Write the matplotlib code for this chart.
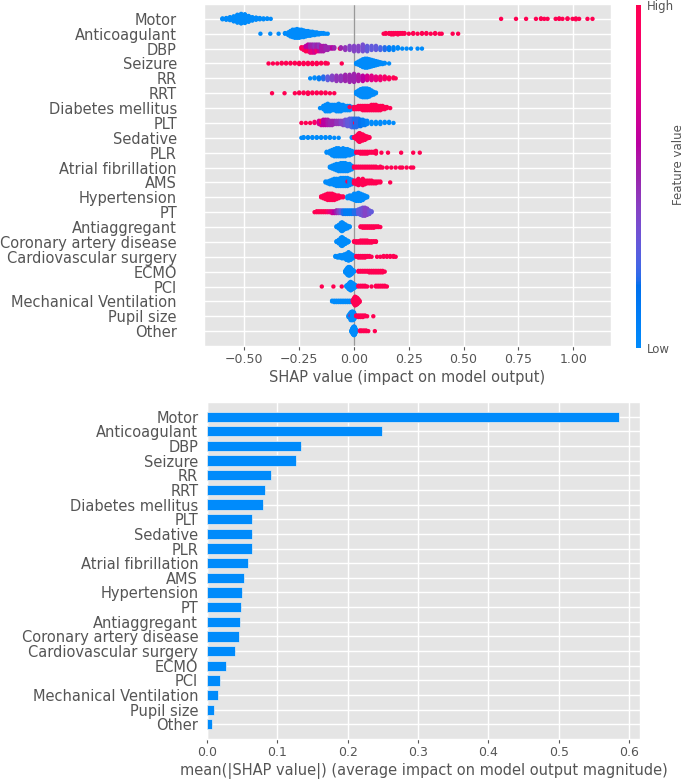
import numpy as np
import matplotlib
matplotlib.use("Agg")
import matplotlib.pyplot as plt
from matplotlib.colors import LinearSegmentedColormap

# ---------------- data ----------------
features = ["Motor", "Anticoagulant", "DBP", "Seizure", "RR", "RRT",
            "Diabetes mellitus", "PLT", "Sedative", "PLR", "Atrial fibrillation",
            "AMS", "Hypertension", "PT", "Antiaggregant", "Coronary artery disease",
            "Cardiovascular surgery", "ECMO", "PCI", "Mechanical Ventilation",
            "Pupil size", "Other"]

mean_abs_shap = [0.586, 0.249, 0.133, 0.126, 0.091, 0.0825, 0.079, 0.0645, 0.0645,
                 0.0645, 0.0577, 0.0527, 0.050, 0.049, 0.047, 0.046, 0.040, 0.0267,
                 0.019, 0.0155, 0.010, 0.0068]

top_xticks = [-0.50, -0.25, 0.00, 0.25, 0.50, 0.75, 1.00]
bottom_xticks = [0.0, 0.1, 0.2, 0.3, 0.4, 0.5, 0.6]

# beeswarm rows: (SHAP value, number of points, feature value 0=low .. 1=high)
motor = [(-0.600, 3, 0), (-0.583, 5, 0), (-0.566, 8, 0), (-0.549, 13, 0), (-0.532, 20, 0),
         (-0.515, 24, 0), (-0.498, 22, 0), (-0.481, 15, 0), (-0.464, 9, 0), (-0.447, 6, 0),
         (-0.430, 4, 0), (-0.413, 3, 0), (-0.396, 2, 0), (-0.380, 1, 0),
         (0.671, 1, 1), (0.739, 1, 1), (0.785, 1, 1), (0.830, 1, 1), (0.853, 2, 1), (0.868, 1, 1),
         (0.883, 1, 1), (0.920, 1, 1), (0.936, 2, 1), (0.951, 1, 1), (0.974, 2, 1), (0.997, 1, 1),
         (1.012, 2, 1), (1.027, 1, 1), (1.065, 1, 1), (1.088, 1, 1)]
anticoagulant = [(-0.427, 1, 0), (-0.382, 1, 0), (-0.344, 1, 0), (-0.315, 2, 0), (-0.30, 5, 0),
                 (-0.29, 9, 0), (-0.28, 12, 0), (-0.27, 13, 0), (-0.26, 14, 0), (-0.25, 13, 0),
                 (-0.24, 12, 0), (-0.23, 11, 0), (-0.22, 9, 0), (-0.21, 8, 0), (-0.20, 7, 0),
                 (-0.19, 6, 0), (-0.18, 5, 0), (-0.17, 4, 0), (-0.16, 3, 0), (-0.15, 2, 0),
                 (-0.14, 2, 0), (-0.13, 1, 0), (-0.12, 1, 0),
                 (0.135, 1, 1), (0.145, 2, 1), (0.16, 2, 1), (0.17, 3, 1), (0.18, 3, 1), (0.19, 2, 1),
                 (0.20, 3, 1), (0.21, 2, 1), (0.22, 2, 1), (0.23, 2, 1), (0.25, 1, 1), (0.27, 2, 1),
                 (0.29, 1, 1), (0.31, 2, 1), (0.33, 2, 1), (0.35, 1, 1), (0.37, 2, 1), (0.39, 1, 1),
                 (0.40, 1, 1), (0.45, 1, 1), (0.475, 1, 1)]
dbp = [(-0.24, 2, 1), (-0.23, 3, 0.9), (-0.22, 3, 1), (-0.22, 2, 0.6), (-0.21, 3, 1), (-0.21, 3, 0.6),
       (-0.20, 4, 0.8), (-0.20, 3, 0.5), (-0.19, 4, 0.8), (-0.19, 3, 0.5), (-0.18, 4, 0.7),
       (-0.18, 3, 0.45), (-0.17, 3, 0.9), (-0.17, 3, 0.5), (-0.16, 3, 0.7), (-0.16, 3, 0.45),
       (-0.15, 5, 0.55), (-0.14, 5, 0.55), (-0.13, 4, 0.5), (-0.12, 3, 0.5), (-0.11, 2, 0.5),
       (-0.10, 2, 0.6), (-0.09, 2, 0.5), (-0.065, 1, 1), (-0.06, 2, 0.5), (-0.04, 3, 0.45),
       (-0.02, 4, 0.4), (0.00, 5, 0.4), (0.02, 5, 0.4), (0.04, 6, 0.35), (0.06, 5, 0.3),
       (0.08, 4, 0.3), (0.10, 4, 0.3), (0.12, 3, 0.25), (0.14, 3, 0.2), (0.16, 3, 0.1),
       (0.18, 3, 0.05), (0.20, 2, 0), (0.22, 1, 0), (0.24, 1, 0), (0.26, 1, 0), (0.29, 1, 0),
       (0.31, 1, 0)]
seizure = [(-0.39, 1, 1), (-0.37, 1, 1), (-0.35, 1, 1), (-0.33, 2, 1), (-0.31, 2, 1), (-0.29, 2, 1),
           (-0.27, 2, 1), (-0.25, 3, 1), (-0.23, 3, 1), (-0.21, 3, 1), (-0.19, 3, 1), (-0.17, 3, 1),
           (-0.15, 2, 1), (-0.13, 2, 1), (-0.12, 1, 1), (-0.056, 1, 1),
           (0.01, 3, 0), (0.02, 6, 0), (0.03, 10, 0), (0.04, 14, 0), (0.05, 16, 0), (0.06, 16, 0),
           (0.07, 14, 0), (0.08, 12, 0), (0.09, 10, 0), (0.10, 8, 0), (0.11, 6, 0), (0.12, 4, 0),
           (0.13, 3, 0), (0.14, 2, 0), (0.16, 1, 0)]
rr = [(-0.20, 1, 0), (-0.18, 2, 0), (-0.16, 3, 0.1), (-0.14, 4, 0.2), (-0.12, 5, 0.3),
      (-0.10, 6, 0.4), (-0.08, 7, 0.45), (-0.06, 7, 0.45), (-0.04, 8, 0.5), (-0.02, 9, 0.5),
      (0.00, 10, 0.5), (0.02, 8, 0.55), (0.04, 7, 0.6), (0.06, 6, 0.7), (0.08, 6, 0.75),
      (0.10, 5, 0.8), (0.12, 5, 0.85), (0.14, 4, 0.9), (0.16, 3, 0.95), (0.18, 2, 1), (0.19, 1, 1)]
rrt = [(-0.374, 1, 1), (-0.317, 1, 1), (-0.27, 1, 1), (-0.25, 2, 1), (-0.23, 2, 1), (-0.21, 3, 1),
       (-0.19, 2, 1), (-0.17, 2, 1), (-0.15, 2, 1), (-0.13, 2, 1), (-0.11, 1, 1), (-0.09, 1, 1),
       (0.01, 4, 0), (0.02, 8, 0), (0.03, 12, 0), (0.04, 14, 0), (0.05, 14, 0), (0.06, 14, 0),
       (0.07, 12, 0), (0.08, 8, 0), (0.09, 5, 0), (0.10, 2, 0)]
diabetes = [(-0.155, 1, 0), (-0.14, 4, 0), (-0.13, 7, 0), (-0.12, 8, 0), (-0.11, 7, 0), (-0.10, 6, 0),
            (-0.09, 6, 0), (-0.08, 7, 0), (-0.07, 8, 0), (-0.06, 7, 0), (-0.05, 6, 0), (-0.04, 5, 0),
            (-0.03, 5, 0), (-0.02, 4, 0), (-0.01, 3, 0),
            (-0.02, 1, 1), (0.00, 3, 1), (0.01, 3, 1), (0.02, 4, 1), (0.03, 4, 1), (0.04, 5, 1),
            (0.05, 5, 1), (0.06, 5, 1), (0.07, 5, 1), (0.08, 6, 1), (0.09, 6, 1), (0.10, 6, 1),
            (0.11, 5, 1), (0.12, 5, 1), (0.13, 4, 1), (0.14, 3, 1), (0.15, 2, 1), (0.165, 1, 1)]
plt_count = [(-0.24, 1, 1), (-0.22, 1, 1), (-0.20, 1, 1), (-0.18, 2, 0.9), (-0.16, 4, 0.7),
             (-0.15, 3, 0.65), (-0.15, 2, 1), (-0.14, 6, 0.6), (-0.13, 6, 0.6), (-0.12, 6, 0.55),
             (-0.11, 5, 0.5), (-0.10, 5, 0.5), (-0.09, 4, 0.5), (-0.08, 4, 0.45), (-0.07, 4, 0.45),
             (-0.06, 4, 0.4), (-0.05, 5, 0.4), (-0.04, 6, 0.35), (-0.03, 7, 0.3), (-0.02, 8, 0.3),
             (-0.01, 9, 0.25), (0.00, 9, 0.2), (0.005, 1, 1), (0.01, 9, 0.2), (0.02, 8, 0.2),
             (0.03, 7, 0.15), (0.04, 6, 0.1), (0.05, 5, 0.1), (0.06, 4, 0.05), (0.08, 3, 0),
             (0.10, 3, 0), (0.12, 3, 0), (0.14, 2, 0), (0.16, 2, 0), (0.18, 1, 0)]
sedative = [(-0.24, 1, 0), (-0.23, 2, 0), (-0.21, 2, 0), (-0.19, 2, 0), (-0.17, 2, 0), (-0.15, 2, 0),
            (-0.13, 2, 0), (-0.11, 2, 0), (-0.09, 1, 0), (-0.07, 1, 0), (-0.01, 2, 0),
            (0.00, 2, 1), (0.01, 6, 1), (0.02, 12, 1), (0.025, 14, 1), (0.03, 12, 1), (0.04, 10, 1),
            (0.05, 7, 1), (0.06, 4, 1), (0.07, 2, 1)]
plr = [(-0.125, 2, 0), (-0.11, 4, 0), (-0.10, 7, 0), (-0.09, 9, 0), (-0.08, 10, 0), (-0.07, 10, 0),
       (-0.06, 9, 0), (-0.05, 10, 0), (-0.04, 9, 0), (-0.03, 8, 0), (-0.02, 7, 0), (-0.01, 5, 0),
       (0.00, 3, 0),
       (0.01, 2, 1), (0.02, 2, 1), (0.03, 3, 1), (0.04, 3, 1), (0.05, 3, 1), (0.06, 3, 1),
       (0.07, 2, 1), (0.08, 2, 1), (0.09, 2, 1), (0.10, 4, 1), (0.125, 1, 1), (0.155, 1, 1),
       (0.215, 1, 1), (0.27, 1, 1), (0.30, 1, 1)]
afib = [(-0.11, 2, 0), (-0.10, 4, 0), (-0.09, 6, 0), (-0.08, 8, 0), (-0.07, 9, 0), (-0.06, 10, 0),
        (-0.05, 10, 0), (-0.04, 10, 0), (-0.03, 9, 0), (-0.02, 8, 0), (-0.01, 5, 0),
        (0.00, 2, 1), (0.01, 2, 1), (0.02, 2, 1), (0.03, 2, 1), (0.04, 2, 1), (0.05, 2, 1),
        (0.06, 2, 1), (0.07, 2, 1), (0.08, 2, 1), (0.09, 2, 1), (0.10, 2, 1), (0.11, 1, 1),
        (0.12, 2, 1), (0.13, 1, 1), (0.15, 1, 1), (0.17, 1, 1), (0.19, 1, 1), (0.21, 1, 1),
        (0.22, 1, 1), (0.24, 1, 1), (0.26, 1, 1), (0.27, 1, 1)]
ams = [(-0.13, 2, 0), (-0.12, 3, 0), (-0.11, 5, 0), (-0.10, 6, 0), (-0.09, 8, 0), (-0.08, 9, 0),
       (-0.07, 9, 0), (-0.06, 10, 0), (-0.05, 10, 0), (-0.04, 10, 0), (-0.03, 9, 0), (-0.03, 1, 1),
       (-0.02, 8, 0), (-0.01, 6, 0), (0.02, 3, 0), (0.04, 3, 0),
       (0.00, 4, 1), (0.01, 5, 1), (0.02, 5, 1), (0.03, 5, 1), (0.04, 5, 1), (0.05, 5, 1),
       (0.06, 4, 1), (0.07, 4, 1), (0.08, 4, 1), (0.09, 3, 1), (0.10, 3, 1), (0.11, 2, 1),
       (0.12, 2, 1), (0.165, 1, 1)]
hypertension = [(-0.15, 2, 1), (-0.14, 4, 1), (-0.13, 6, 1), (-0.12, 8, 1), (-0.11, 8, 1),
                (-0.10, 8, 1), (-0.09, 7, 1), (-0.08, 5, 1), (-0.07, 4, 1), (-0.06, 2, 1),
                (-0.05, 2, 1),
                (-0.03, 3, 0), (-0.02, 4, 0), (-0.01, 5, 0), (0.00, 8, 0), (0.01, 9, 0),
                (0.02, 10, 0), (0.03, 9, 0), (0.04, 7, 0), (0.05, 4, 0), (0.06, 2, 0)]
pt = [(-0.18, 1, 1), (-0.17, 2, 1), (-0.16, 2, 1), (-0.15, 2, 1), (-0.14, 2, 1), (-0.13, 2, 1),
      (-0.12, 2, 0.9), (-0.11, 2, 0.8), (-0.10, 3, 0.7), (-0.09, 3, 0.6), (-0.08, 4, 0.5),
      (-0.07, 4, 0.4), (-0.06, 4, 0.3), (-0.05, 5, 0.2), (-0.04, 5, 0.1), (-0.03, 5, 0.1),
      (-0.02, 5, 0.1), (-0.01, 5, 0.1), (0.00, 5, 0.2), (0.01, 5, 0.2), (0.02, 6, 0.3),
      (0.03, 8, 0.3), (0.04, 10, 0.35), (0.05, 10, 0.4), (0.06, 8, 0.4), (0.07, 5, 0.35),
      (0.08, 2, 0.3)]
antiaggregant = [(-0.08, 2, 0), (-0.07, 6, 0), (-0.06, 12, 0), (-0.055, 14, 0), (-0.05, 12, 0),
                 (-0.04, 8, 0), (-0.03, 5, 0), (-0.02, 2, 0),
                 (0.03, 2, 1), (0.04, 3, 1), (0.05, 3, 1), (0.06, 3, 1), (0.07, 3, 1), (0.08, 3, 1),
                 (0.09, 3, 1), (0.10, 2, 1), (0.11, 2, 1), (0.12, 1, 1)]
cad = [(-0.08, 2, 0), (-0.07, 6, 0), (-0.06, 12, 0), (-0.055, 14, 0), (-0.05, 12, 0),
       (-0.04, 8, 0), (-0.03, 4, 0), (-0.025, 2, 0),
       (0.00, 2, 1), (0.01, 3, 1), (0.02, 3, 1), (0.03, 4, 1), (0.04, 4, 1), (0.05, 4, 1),
       (0.06, 4, 1), (0.07, 3, 1), (0.08, 3, 1), (0.09, 2, 1), (0.10, 2, 1)]
cv_surgery = [(-0.085, 2, 0), (-0.075, 3, 0), (-0.065, 4, 0), (-0.055, 5, 0), (-0.045, 6, 0),
              (-0.035, 9, 0), (-0.025, 12, 0), (-0.015, 9, 0), (-0.005, 5, 0), (0.00, 2, 0),
              (0.01, 2, 1), (0.02, 3, 1), (0.03, 3, 1), (0.04, 3, 1), (0.05, 3, 1), (0.06, 2, 1),
              (0.07, 2, 1), (0.08, 1, 1), (0.105, 1, 1), (0.12, 1, 1), (0.135, 2, 1), (0.15, 2, 1),
              (0.165, 2, 1), (0.18, 2, 1), (0.19, 1, 1)]
ecmo = [(-0.04, 3, 0), (-0.035, 6, 0), (-0.03, 10, 0), (-0.025, 12, 0), (-0.02, 12, 0),
        (-0.015, 10, 0), (-0.01, 7, 0), (-0.005, 4, 0), (0.00, 2, 0),
        (0.02, 2, 1), (0.03, 2, 1), (0.04, 2, 1), (0.05, 2, 1), (0.06, 2, 1), (0.07, 3, 1),
        (0.08, 3, 1), (0.09, 3, 1), (0.10, 3, 1), (0.11, 3, 1), (0.12, 3, 1), (0.13, 3, 1),
        (0.14, 1, 1)]
pci = [(-0.147, 1, 1), (-0.094, 1, 1), (-0.056, 1, 1),
       (-0.035, 2, 0), (-0.03, 4, 0), (-0.025, 7, 0), (-0.02, 10, 0), (-0.015, 12, 0),
       (-0.01, 10, 0), (-0.005, 8, 0), (0.00, 6, 0), (0.005, 4, 0), (0.01, 2, 0),
       (0.02, 2, 1), (0.03, 2, 1), (0.04, 2, 1), (0.05, 2, 1), (0.06, 1, 1), (0.08, 1, 1),
       (0.10, 2, 1), (0.11, 2, 1), (0.12, 2, 1), (0.13, 2, 1), (0.14, 2, 1), (0.15, 1, 1)]
mech_vent = [(-0.10, 2, 0), (-0.09, 3, 0), (-0.08, 3, 0), (-0.07, 3, 0), (-0.06, 3, 0),
             (-0.05, 3, 0), (-0.04, 3, 0), (-0.03, 3, 0), (-0.02, 3, 0), (-0.01, 3, 0),
             (-0.005, 4, 1), (0.00, 10, 1), (0.005, 14, 1), (0.01, 12, 1), (0.015, 10, 1),
             (0.02, 6, 1), (0.025, 3, 1)]
pupil = [(-0.025, 3, 0), (-0.02, 6, 0), (-0.015, 10, 0), (-0.015, 1, 1), (-0.01, 12, 0),
         (-0.005, 12, 0), (0.00, 10, 0), (0.005, 5, 0),
         (0.01, 2, 1), (0.02, 3, 1), (0.03, 3, 1), (0.04, 3, 1), (0.05, 2, 1), (0.06, 1, 1),
         (0.088, 1, 1)]
other = [(-0.012, 3, 0), (-0.008, 8, 0), (-0.004, 12, 0), (0.00, 14, 0), (0.004, 12, 0),
         (0.008, 6, 0),
         (0.027, 2, 1), (0.035, 2, 1), (0.045, 2, 1), (0.055, 2, 1), (0.065, 1, 1), (0.095, 1, 1)]

rows = [motor, anticoagulant, dbp, seizure, rr, rrt, diabetes, plt_count, sedative, plr, afib,
        ams, hypertension, pt, antiaggregant, cad, cv_surgery, ecmo, pci, mech_vent, pupil, other]


# ---------------- colormap (SHAP red-blue, built in LCH space) ----------------
def lab_to_rgb(L, a, b):
    fy = (L + 16.0) / 116.0
    fx = fy + a / 500.0
    fz = fy - b / 200.0

    def finv(t):
        return t ** 3 if t > 6 / 29 else 3 * (6 / 29) ** 2 * (t - 4 / 29)

    X, Y, Z = 0.95047 * finv(fx), finv(fy), 1.08883 * finv(fz)
    lin = [3.2406 * X - 1.5372 * Y - 0.4986 * Z,
           -0.9689 * X + 1.8758 * Y + 0.0415 * Z,
           0.0557 * X - 0.2040 * Y + 1.0570 * Z]
    out = []
    for v in lin:
        v = min(max(v, 0.0), 1.0)
        out.append(12.92 * v if v <= 0.0031308 else 1.055 * v ** (1 / 2.4) - 0.055)
    return out


nsteps = 100
l_vals = list(np.linspace(54., 40., nsteps // 2)) + list(np.linspace(40., 54., nsteps // 2))
c_vals = np.linspace(70., 90., nsteps)
h_vals = np.linspace(4.6588, 0.35470565 + 2 * np.pi, nsteps)
cols = [lab_to_rgb(l, c * np.cos(h), c * np.sin(h)) for l, c, h in zip(l_vals, c_vals, h_vals)]
cmap = LinearSegmentedColormap.from_list("red_blue", cols)
bar_blue = lab_to_rgb(54., 70. * np.cos(4.6588), 70. * np.sin(4.6588))

# ---------------- figure ----------------
plt.style.use("ggplot")
plt.rcParams["font.family"] = ["DejaVu Sans"]
W, H = 685, 779
fig = plt.figure(figsize=(W / 100, H / 100), dpi=100)


def fx(px):
    return px / W


def fy(px):
    return 1 - px / H


# ---- top: beeswarm ----
ax1 = fig.add_axes([fx(204), fy(346), fx(611) - fx(204), fy(4) - fy(346)])
n = len(features)
row_height = 0.4
for i, bins in enumerate(rows):
    vals = np.array([b[0] for b in bins], dtype=float)
    cnts = np.array([b[1] for b in bins], dtype=int)
    fv = np.array([b[2] for b in bins], dtype=float)
    shaps = np.repeat(vals, cnts)
    fvals = np.repeat(fv, cnts)
    sub = np.concatenate([np.arange(c) for c in cnts])
    quant = np.round(100 * (shaps - shaps.min()) / (shaps.max() - shaps.min() + 1e-8))
    inds = np.lexsort((sub, quant))
    ys = np.zeros(len(shaps))
    layer, last = 0, -1
    for ind in inds:
        if quant[ind] != last:
            layer = 0
        ys[ind] = np.ceil(layer / 2) * ((layer % 2) * 2 - 1)
        layer += 1
        last = quant[ind]
    ys *= 0.9 * (row_height / np.max(ys + 1))
    pos = n - 1 - i
    ax1.scatter(shaps, pos + ys, c=fvals, cmap=cmap, vmin=0, vmax=1, s=10,
                linewidths=0, zorder=3)

ax1.axvline(0, color="#999999", lw=1, zorder=2)
ax1.set_ylim(-1, n)
ax1.set_yticks(range(n))
ax1.set_yticklabels(features[::-1], fontsize=10.5)
ax1.set_xticks(top_xticks)
ax1.tick_params(axis="y", length=0, pad=19.5)
ax1.tick_params(axis="x", labelsize=9, length=3, pad=2)
ax1.set_xlabel("SHAP value (impact on model output)", fontsize=10.5, labelpad=3)
ax1.grid(True, color="white", lw=1)

# colorbar
cax = fig.add_axes([fx(636), fy(348), fx(641) - fx(636), fy(5) - fy(348)])
sm = plt.cm.ScalarMappable(cmap=cmap, norm=plt.Normalize(0, 1))
cb = fig.colorbar(sm, cax=cax, ticks=[0, 1])
cb.set_ticklabels(["Low", "High"])
cb.ax.tick_params(labelsize=8.5, length=0, pad=4)
cb.outline.set_visible(False)
cax.grid(False)
fig.text(fx(679), fy(165), "Feature value", rotation=90, ha="center", va="center",
         fontsize=8.5, color="#555555")

# ---- bottom: bar chart ----
ax2 = fig.add_axes([fx(207), fy(739), fx(640) - fx(207), fy(402) - fy(739)])
ypos = np.arange(n)[::-1]
ax2.barh(ypos, mean_abs_shap, 0.7, align="center", color=bar_blue,
         edgecolor="#EEEEEE", linewidth=0.5, zorder=3)
ax2.set_ylim(-1, n)
ax2.set_yticks(ypos)
ax2.set_yticklabels(features, fontsize=10.5)
ax2.set_xticks(bottom_xticks)
ax2.tick_params(axis="y", length=0, pad=6.3)
ax2.tick_params(axis="x", labelsize=9, length=3, pad=2)
ax2.set_xlabel("mean(|SHAP value|) (average impact on model output magnitude)",
               fontsize=10.5, labelpad=3)
ax2.grid(True, color="white", lw=1)

fig.savefig("out.png", dpi=100)
